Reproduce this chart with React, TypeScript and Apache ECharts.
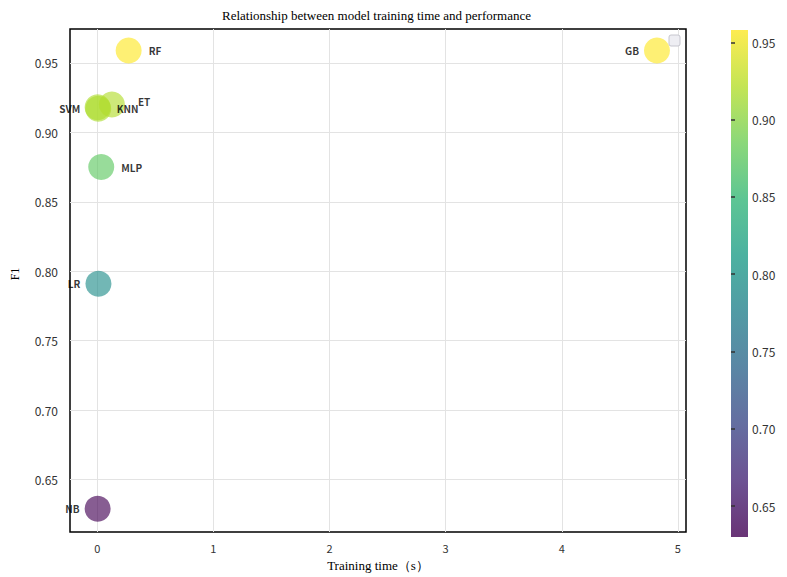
import React, { useEffect, useRef } from "react";
import * as echarts from "echarts";

const models = ["SVM", "KNN", "ET", "RF", "GB", "MLP", "LR", "NB"];
const trainTime = [0.008, 0.003, 0.126, 0.27, 4.82, 0.034, 0.01, 0.003];
const f1 = [0.917, 0.918, 0.92, 0.959, 0.959, 0.875, 0.791, 0.629];
const labelSide = ["left", "right", "right", "right", "left", "right", "left", "left"];
const xTicks = [0, 1, 2, 3, 4, 5];
const yTicks = [0.65, 0.7, 0.75, 0.8, 0.85, 0.9, 0.95];

const viridis = ["#440154", "#482878", "#3e4989", "#31688e", "#26828e", "#1f9e89", "#35b779", "#6ece58", "#b5de2b", "#fde725"];
const cMin = 0.63;
const cMax = 0.958;

function hexToRgba(h: string, a: number) {
  const r = parseInt(h.slice(1, 3), 16);
  const g = parseInt(h.slice(3, 5), 16);
  const b = parseInt(h.slice(5, 7), 16);
  return `rgba(${r},${g},${b},${a})`;
}

export default function App() {
  const ref = useRef<HTMLDivElement>(null);
  useEffect(() => {
    if (!ref.current) return;
    const chart = echarts.init(ref.current, null, { renderer: "svg" });
    const data = models.map((m, i) => ({
      value: [trainTime[i], f1[i], m],
      label: {
        position: labelSide[i],
        distance: labelSide[i] === "left" ? 5 : 7,
        offset: m === "ET" ? [6, -3] : m === "KNN" ? [-1, 1] : [0, 0],
      },
    }));
    const n = viridis.length;
    const barGradient = new echarts.graphic.LinearGradient(
      0, 0, 0, 1,
      viridis.map((c, i) => ({ offset: i / (n - 1), color: hexToRgba(viridis[n - 1 - i], 0.8) }))
    );
    const sans = "Noto Sans CJK SC";
    const serif = "Liberation Serif";
    chart.setOption({
      animation: false,
      backgroundColor: "#fff",
      title: {
        text: "Relationship between model training time and performance",
        left: 217,
        top: 4,
        textStyle: { fontFamily: serif, fontSize: 13, fontWeight: "normal", color: "#000" },
      },
      grid: [
        { left: 70, right: 101, top: 29, bottom: 40, show: true, borderColor: "#000", borderWidth: 1.5, backgroundColor: "#fff" },
        { left: 731, width: 17, top: 30, bottom: 40, show: true, borderWidth: 0, backgroundColor: barGradient },
      ],
      xAxis: [
        {
          type: "value",
          gridIndex: 0,
          min: -0.235,
          max: 5.07,
          name: "Training time（s）",
          nameLocation: "middle",
          nameGap: 27,
          nameTextStyle: { fontFamily: serif, fontSize: 13, color: "#000" },
          axisLine: { show: false },
          axisTick: { show: false, customValues: xTicks },
          axisLabel: { customValues: xTicks, fontFamily: sans, fontSize: 11, color: "#333", margin: 10 },
          splitLine: { show: true, lineStyle: { color: "#e3e3e3", width: 1 } },
        },
        { type: "value", gridIndex: 1, min: 0, max: 1, show: false },
      ],
      yAxis: [
        {
          type: "value",
          gridIndex: 0,
          min: 0.6122,
          max: 0.9744,
          axisLine: { show: false },
          axisTick: { show: false, customValues: yTicks },
          axisLabel: { customValues: yTicks, formatter: (v: number) => v.toFixed(2), fontFamily: sans, fontSize: 12, color: "#333", margin: 12 },
          splitLine: { show: true, lineStyle: { color: "#e3e3e3", width: 1 } },
        },
        {
          type: "value",
          gridIndex: 1,
          min: cMin,
          max: cMax,
          position: "right",
          axisLine: { show: false },
          axisTick: { show: true, inside: false, length: 4, customValues: yTicks, lineStyle: { color: "#333", width: 1.5 } },
          axisLabel: { customValues: yTicks, formatter: (v: number) => v.toFixed(2), fontFamily: sans, fontSize: 12, color: "#333", margin: 4 },
          splitLine: { show: false },
        },
      ],
      visualMap: {
        type: "continuous",
        show: false,
        dimension: 1,
        seriesIndex: 0,
        min: cMin,
        max: cMax,
        inRange: { color: viridis, colorAlpha: 0.8 },
      },
      graphic: [
        {
          type: "rect",
          shape: { x: 669, y: 35, width: 11, height: 11, r: 2 },
          style: { fill: "#eeeef3", stroke: "#c6c6ce", lineWidth: 1 },
          z: 100,
        },
        {
          type: "text",
          x: 15,
          y: 274,
          rotation: Math.PI / 2,
          style: { text: "F1", fontFamily: serif, fontSize: 12, fill: "#000", align: "center", verticalAlign: "middle" },
        },
      ],
      series: [
        {
          type: "scatter",
          xAxisIndex: 0,
          yAxisIndex: 0,
          symbolSize: 26,
          label: {
            show: true,
            formatter: (p: any) => p.value[2],
            fontFamily: sans,
            fontSize: 10,
            fontWeight: "bold",
            color: "#000",
          },
          data,
        },
      ],
    });
    return () => chart.dispose();
  }, []);
  return <div ref={ref} style={{ position: "fixed", left: 0, top: 0, width: 787, height: 577 }} />;
}
